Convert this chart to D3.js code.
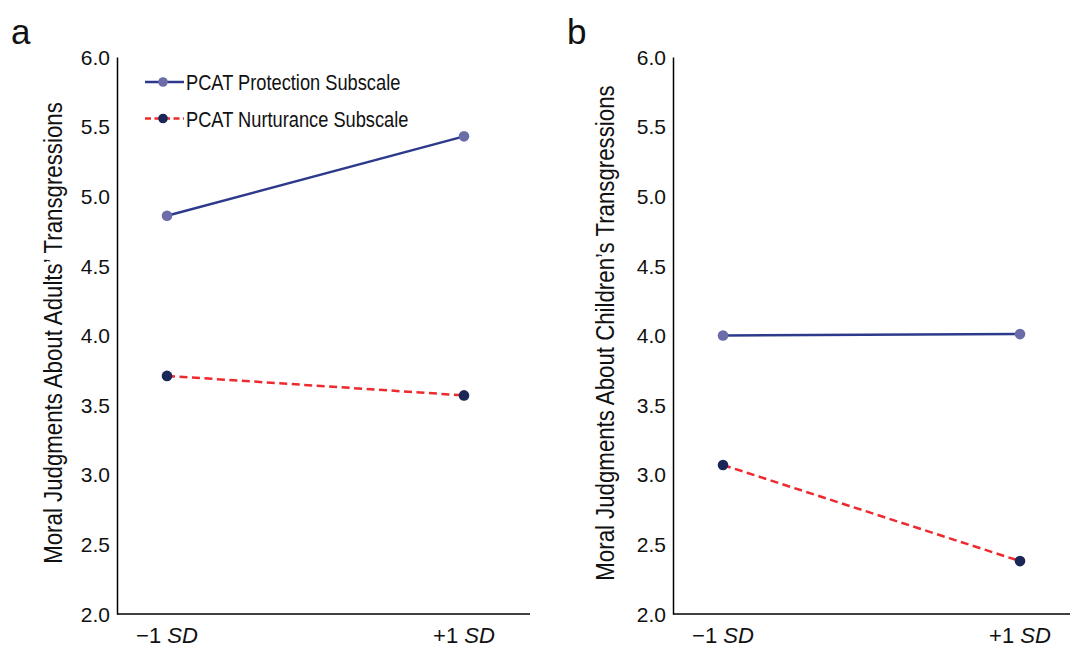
<!DOCTYPE html>
<html><head><meta charset="utf-8">
<script src="https://cdn.jsdelivr.net/npm/d3@7"></script>
<style>
body{margin:0;background:#fff;}
text{font-family:"Liberation Sans",Arial,sans-serif;fill:#111;}
</style></head>
<body>
<svg id="c" width="1074" height="649"></svg>
<script>
const categories = ["\u22121 SD", "+1 SD"];
const yTicks = [2.0, 2.5, 3.0, 3.5, 4.0, 4.5, 5.0, 5.5, 6.0];
const seriesNames = ["PCAT Protection Subscale", "PCAT Nurturance Subscale"];
const adultsProtection = [4.86, 5.43];
const adultsNurturance = [3.71, 3.57];
const childrenProtection = [4.00, 4.01];
const childrenNurturance = [3.07, 2.38];
const panelLetters = ["a", "b"];
const yLabels = ["Moral Judgments About Adults\u2019 Transgressions", "Moral Judgments About Children\u2019s Transgressions"];

const svg = d3.select("#c");
const styles = [
  {line:"#2d3a8c", marker:"#6c6ca8", dash:null},
  {line:"#ee2a2e", marker:"#1b2757", dash:"8,4.5"}
];
const panels = [
  {x0:117, x1:530, letterX:11, ylabX:62, data:[adultsProtection, adultsNurturance], legend:true},
  {x0:673, x1:1070, letterX:567, ylabX:614, data:[childrenProtection, childrenNurturance], legend:false}
];
const yTop = 57, yBot = 614;

panels.forEach((p, pi) => {
  const g = svg.append("g");
  const y = d3.scaleLinear().domain([2, 6]).range([yBot, yTop]);
  const x = d3.scalePoint().domain(categories).range([p.x0 + 50, p.x0 + 347]);
  const xAxisScale = d3.scaleLinear().domain([0,1]).range([p.x0, p.x1]);

  const ya = g.append("g").attr("transform", `translate(${p.x0},0)`)
    .call(d3.axisLeft(y).tickValues(yTicks).tickFormat(d3.format(".1f")).tickSize(0).tickPadding(7));
  ya.attr("font-family", null).attr("font-size", null);
  ya.select(".domain").attr("stroke", "#000").attr("stroke-width", 1.5);
  ya.selectAll("text").style("font-size", "21px").attr("fill", "#111").attr("dy", "0.34em");

  g.append("line").attr("x1", xAxisScale(0)).attr("x2", xAxisScale(1))
    .attr("y1", yBot).attr("y2", yBot).attr("stroke", "#000").attr("stroke-width", 1.5);

  categories.forEach(c => {
    const parts = c.split(" ");
    const t = g.append("text").attr("x", x(c)).attr("y", yBot + 29)
      .attr("text-anchor", "middle").style("font-size", "22px");
    t.append("tspan").text(parts[0] + "\u00a0");
    t.append("tspan").attr("font-style", "italic").text(parts[1]);
  });

  g.append("text").attr("transform", `translate(${p.ylabX},333) rotate(-90) scale(0.89,1)`)
    .attr("text-anchor", "middle").style("font-size", "25px").text(yLabels[pi]);

  g.append("text").attr("x", p.letterX).attr("y", 43.5).style("font-size", "35px")
    .text(panelLetters[pi]);

  p.data.forEach((vals, si) => {
    const s = styles[si];
    const pts = categories.map((c, i) => [x(c), y(vals[i])]);
    g.append("path").attr("d", d3.line()(pts)).attr("fill", "none")
      .attr("stroke", s.line).attr("stroke-width", 2.5)
      .attr("stroke-dasharray", s.dash);
    g.selectAll(null).data(pts).enter().append("circle")
      .attr("cx", d => d[0]).attr("cy", d => d[1]).attr("r", 5.3).attr("fill", s.marker);
  });

  if (p.legend) {
    seriesNames.forEach((n, si) => {
      const s = styles[si];
      const ly = 82 + si * 36.5;
      g.append("line").attr("x1", 145).attr("x2", 184).attr("y1", ly).attr("y2", ly)
        .attr("stroke", s.line).attr("stroke-width", 2.5).attr("stroke-dasharray", s.dash ? "6,3.5" : null);
      g.append("circle").attr("cx", 163).attr("cy", ly).attr("r", 4.8).attr("fill", s.marker);
      g.append("text").attr("transform", `translate(186,${ly + 8}) scale(0.83,1)`)
        .style("font-size", "22px").text(n);
    });
  }
});
</script>
</body></html>
